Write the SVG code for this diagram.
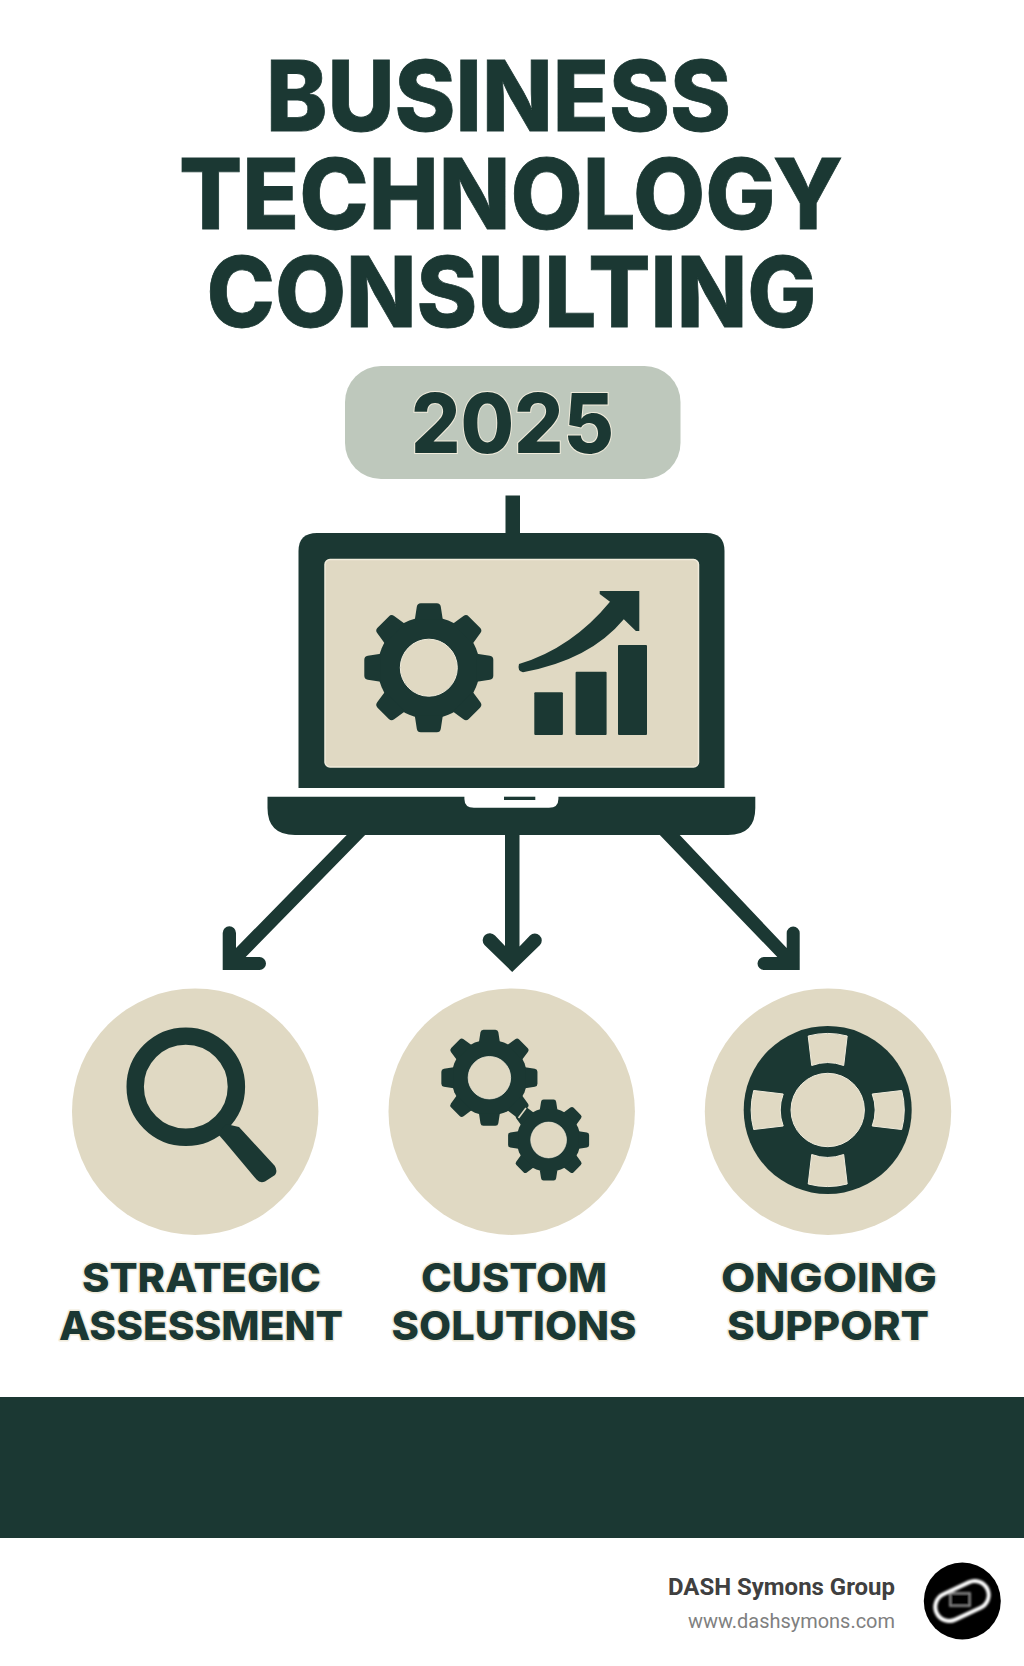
<svg xmlns="http://www.w3.org/2000/svg" xmlns:xlink="http://www.w3.org/1999/xlink" width="1024" height="1666" viewBox="0 0 1024 1666">
<style>
.d{fill:#1b3833}
.b{fill:#e0d9c3}
.t{font-family:Inter,"Liberation Sans",sans-serif;font-weight:800;fill:#1b3833}
.title{font-size:98px;stroke:#1b3833;stroke-width:.8px}
.lab{font-size:40px;stroke:#f1ecdc;stroke-width:3px;paint-order:stroke;stroke-linejoin:round}
</style>
<defs>
<path id="tooth" class="d" d="M-14 -48L-12 -61Q-11.5 -64.5 -8 -64.5H8Q11.5 -64.5 12 -61L14 -48Z"/>
<g id="gear">
<circle class="d" r="51"/>
<use xlink:href="#tooth" href="#tooth"/>
<use xlink:href="#tooth" href="#tooth" transform="rotate(45)"/>
<use xlink:href="#tooth" href="#tooth" transform="rotate(90)"/>
<use xlink:href="#tooth" href="#tooth" transform="rotate(135)"/>
<use xlink:href="#tooth" href="#tooth" transform="rotate(180)"/>
<use xlink:href="#tooth" href="#tooth" transform="rotate(225)"/>
<use xlink:href="#tooth" href="#tooth" transform="rotate(270)"/>
<use xlink:href="#tooth" href="#tooth" transform="rotate(315)"/>
<circle class="b" r="28.5" stroke="#f1ecdc" stroke-width="1"/>
</g>
<path id="panel" class="b" stroke="#f1ecdc" stroke-width="1" d="M-19.5 -74A76 76 0 0 1 19.5 -74L16 -44.5A46 46 0 0 0 -16 -44.5Z"/>
<filter id="soft" x="-10%" y="-10%" width="120%" height="120%"><feGaussianBlur stdDeviation="1"/></filter>
</defs>

<rect width="1024" height="1666" fill="#fff"/>

<g id="title">
<text class="t title" x="266" y="131" textLength="465" lengthAdjust="spacingAndGlyphs">BUSINESS</text>
<text class="t title" x="179" y="229" textLength="664" lengthAdjust="spacingAndGlyphs">TECHNOLOGY</text>
<text class="t title" x="206.5" y="327" textLength="610" lengthAdjust="spacingAndGlyphs">CONSULTING</text>
</g>

<g id="year">
<rect x="345" y="366" width="335.5" height="113" rx="36" fill="#bec8bc"/>
<text class="t" x="411" y="453" font-size="82" textLength="203" lengthAdjust="spacingAndGlyphs" stroke="#f1ecdc" stroke-width="2" paint-order="stroke">2025</text>
</g>

<g id="connectors">
<rect class="d" x="505.5" y="495.5" width="14.5" height="40"/>
<path class="d" d="M505 830V946L495 935.5A6.9 6.9 0 0 0 484.5 945L512.2 972L540 945A6.9 6.9 0 0 0 530 935.5L519.5 946.5V830Z"/>
<path class="d" d="M351.6 830L236 948V933A6.5 6.5 0 0 0 222.7 933V970H259.5A6.5 6.5 0 0 0 259.5 957H245.7L370 830Z"/>
<path class="d" d="M675 830L786.7 948V933A6.5 6.5 0 0 1 799.7 933V970H764A6.5 6.5 0 0 1 764 957H777.3L655 830Z"/>
</g>

<g id="laptop">
<path class="d" d="M298.5 788V551Q298.5 533 317 533H706.5Q724.5 533 724.5 551V788Z"/>
<rect x="325" y="559.5" width="373.5" height="207.5" rx="5" class="b" stroke="#f1ecdc" stroke-width="1.5"/>
<use xlink:href="#gear" href="#gear" transform="translate(428.8 667.7)"/>
<path class="d" d="M519 664Q572 648 610 601.7L599.7 594V591H639.3V631H635.9L623.8 619.3Q590 660 523 672.3Q517 671 519 664Z"/>
<rect class="d" x="534.3" y="692.3" width="28.6" height="42.7" rx="1"/>
<rect class="d" x="575.6" y="671.7" width="31" height="63.3" rx="1"/>
<rect class="d" x="618" y="645" width="29" height="90" rx="1"/>
<path class="d" d="M267.5 796.7H464.4V799Q464.4 807.7 474 807.7H549Q558.4 807.7 558.4 799V796.7H755.3V808Q755.3 835 728 835H295Q267.5 835 267.5 808Z"/>
<rect class="d" x="504" y="796.7" width="31.3" height="3.3"/>
</g>

<g id="strategic-assessment">
<circle class="b" cx="195.2" cy="1111.7" r="123.2"/>
<circle cx="185.8" cy="1086.7" r="50.6" fill="none" stroke="#1b3833" stroke-width="17.4"/>
<path class="d" d="M226 1124L239 1127L274.7 1165.7Q278 1171 275 1175L265 1181.5Q260 1183.5 256.5 1179.5L225 1142L218 1134Z"/>
<text class="t lab" x="82" y="1292" textLength="239" lengthAdjust="spacingAndGlyphs">STRATEGIC</text>
<text class="t lab" x="59" y="1340" textLength="284" lengthAdjust="spacingAndGlyphs">ASSESSMENT</text>
</g>

<g id="custom-solutions">
<circle class="b" cx="511.7" cy="1111.7" r="123.2"/>
<use xlink:href="#gear" href="#gear" transform="translate(489.4 1077.7) scale(.745)"/>
<use xlink:href="#gear" href="#gear" transform="translate(548.6 1140) scale(.628)"/>
<path d="M526 1108L518.5 1118" fill="none" stroke="#e0d9c3" stroke-width="1.5"/>
<text class="t lab" x="421" y="1292" textLength="186" lengthAdjust="spacingAndGlyphs">CUSTOM</text>
<text class="t lab" x="391.5" y="1340" textLength="245" lengthAdjust="spacingAndGlyphs">SOLUTIONS</text>
</g>

<g id="ongoing-support">
<circle class="b" cx="828" cy="1111.7" r="123.2"/>
<circle class="d" cx="827.7" cy="1110" r="84"/>
<circle class="b" cx="827.7" cy="1110" r="36.7" stroke="#f1ecdc" stroke-width="1"/>
<use xlink:href="#panel" href="#panel" transform="translate(827.7 1110)"/>
<use xlink:href="#panel" href="#panel" transform="translate(827.7 1110) rotate(90)"/>
<use xlink:href="#panel" href="#panel" transform="translate(827.7 1110) rotate(180)"/>
<use xlink:href="#panel" href="#panel" transform="translate(827.7 1110) rotate(270)"/>
<text class="t lab" x="721" y="1292" textLength="216" lengthAdjust="spacingAndGlyphs">ONGOING</text>
<text class="t lab" x="727" y="1340" textLength="202" lengthAdjust="spacingAndGlyphs">SUPPORT</text>
</g>

<rect id="band" class="d" x="0" y="1397" width="1024" height="141"/>

<g id="footer">
<text x="668" y="1594.5" font-family="Roboto,'Liberation Sans',sans-serif" font-weight="700" font-size="24" fill="#404040" textLength="227" lengthAdjust="spacingAndGlyphs">DASH Symons Group</text>
<text x="688" y="1627.5" font-family="Roboto,'Liberation Sans',sans-serif" font-size="20" fill="#808080" textLength="207" lengthAdjust="spacingAndGlyphs">www.dashsymons.com</text>
<circle cx="962.3" cy="1601" r="38.5" fill="#000"/>
<g filter="url(#soft)">
<rect x="934" y="1587" width="56" height="28" rx="14" fill="none" stroke="#fff" stroke-width="4" transform="rotate(-25 962 1601)"/>
<rect x="950" y="1593" width="20" height="13" fill="#000" stroke="#aaa" stroke-width="1.5"/>
</g>
</g>
</svg>
